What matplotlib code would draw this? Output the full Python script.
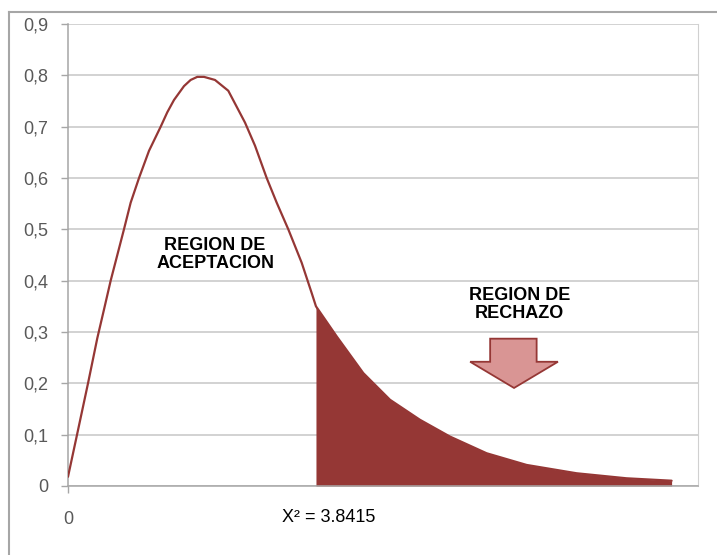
"""
Distribucion chi-cuadrado: region de aceptacion y region de rechazo
"""

import matplotlib
matplotlib.use("Agg")
import matplotlib.pyplot as plt
from matplotlib.patches import Polygon
from matplotlib.lines import Line2D

plt.rcParams['font.family'] = ['Liberation Sans', 'DejaVu Sans']

# valor critico
x_crit = 3.8415

# curva (region de aceptacion)
x_acep = [0.0, 0.14, 0.31, 0.454, 0.558, 0.661, 0.764, 0.867, 0.971, 1.10,
          1.255, 1.436, 1.538, 1.642, 1.797, 1.90, 2.003, 2.107, 2.277, 2.483,
          2.742, 2.897, 3.078, 3.233, 3.413, 3.62, 3.775, x_crit]
y_acep = [0.018, 0.1, 0.2, 0.288, 0.344, 0.40, 0.45, 0.50, 0.552, 0.60,
          0.653, 0.70, 0.728, 0.752, 0.779, 0.791, 0.797, 0.797, 0.791, 0.77,
          0.708, 0.663, 0.60, 0.552, 0.50, 0.435, 0.376, 0.35]

# cola (region de rechazo)
x_rech = [x_crit, 4.162, 4.574, 4.988, 5.452, 5.917, 6.485, 7.105, 7.879, 8.654, 9.351]
y_rech = [0.35, 0.2915, 0.220, 0.168, 0.129, 0.0963, 0.0638, 0.041, 0.0248, 0.015, 0.0103]

y_ticks = [0, 0.1, 0.2, 0.3, 0.4, 0.5, 0.6, 0.7, 0.8, 0.9]
y_labels = ['0', '0,1', '0,2', '0,3', '0,4', '0,5', '0,6', '0,7', '0,8', '0,9']

rojo = '#953735'
rojo_claro = '#d99594'
gris_txt = '#595959'

fig = plt.figure(figsize=(7.17, 5.55), dpi=100)
ax = fig.add_axes([68 / 717, 69 / 555, 630 / 717, 462 / 555])

# marco exterior (estilo Excel)
fig.add_artist(Line2D([9 / 717, 9 / 717], [0, 1 - 12 / 555], transform=fig.transFigure,
                      color='#a6a6a6', lw=1.5))
fig.add_artist(Line2D([9 / 717, 1], [1 - 12 / 555, 1 - 12 / 555], transform=fig.transFigure,
                      color='#a6a6a6', lw=1.5))

# relleno y curva
ax.fill_between(x_rech, y_rech, 0, color=rojo, lw=0, zorder=2)
ax.plot(x_acep + x_rech[1:], y_acep + y_rech[1:], color=rojo, lw=1.6, zorder=3,
        solid_capstyle='round', solid_joinstyle='round')

ax.set_xlim(0, 9.76)
ax.set_ylim(0, 0.9)
ax.set_yticks(y_ticks)
ax.set_yticklabels(y_labels)
ax.set_xticks([0])
ax.set_xticklabels(['0'])
ax.tick_params(axis='both', colors='#a6a6a6', labelcolor=gris_txt, labelsize=13,
               length=5, width=1)
ax.tick_params(axis='y', pad=9)
ax.tick_params(axis='x', pad=13)

ax.grid(axis='y', color='#c6c6c6', lw=1.1, zorder=0)
ax.set_axisbelow(True)
for lado in ['left', 'bottom']:
    ax.spines[lado].set_color('#a6a6a6')
    ax.spines[lado].set_linewidth(1.1)
ax.spines['right'].set_color('#d0d0d0')
ax.spines['top'].set_visible(False)

# textos
ax.text(2.28, 0.451, 'REGION DE\nACEPTACION', ha='center', va='center',
        fontsize=13, fontweight='bold', linespacing=1.1, color='black')
ax.text(7.0, 0.353, 'REGION DE\nRECHAZO', ha='center', va='center',
        fontsize=13, fontweight='bold', linespacing=1.1, color='black')
ax.annotate('X² = 3.8415', xy=(x_crit, 0), xycoords='data',
            xytext=(13, -31), textcoords='offset pixels',
            ha='center', va='center', fontsize=13, color='black',
            annotation_clip=False)

# flecha hacia abajo
flecha = Polygon([(6.54, 0.287), (7.26, 0.287), (7.26, 0.242), (7.59, 0.242),
                  (6.91, 0.191), (6.23, 0.242), (6.54, 0.242)],
                 closed=True, facecolor=rojo_claro, edgecolor=rojo, lw=1.3, zorder=4)
ax.add_patch(flecha)

fig.savefig('out.png', dpi=100)
